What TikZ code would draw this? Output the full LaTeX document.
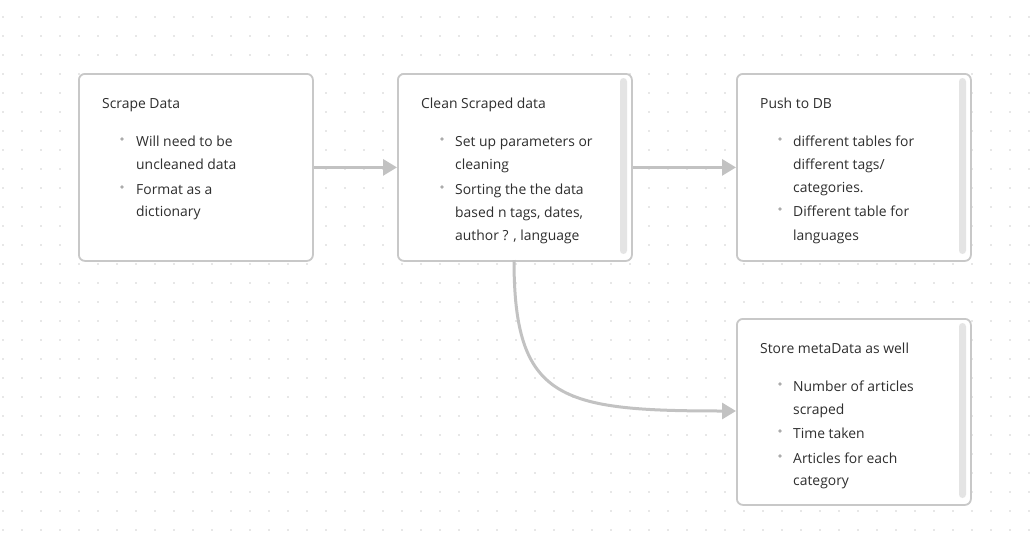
\documentclass[tikz,border=0pt]{standalone}
\usepackage{fontspec}
\setmainfont{Open Sans}
\definecolor{boxline}{HTML}{C8C8C8}
\definecolor{conn}{HTML}{C2C2C2}
\definecolor{barcol}{HTML}{E4E4E4}
\definecolor{txt}{HTML}{2E2E2E}
\definecolor{dotcol}{HTML}{D0D0D0}
\definecolor{bul}{HTML}{ABABAB}
\tikzset{
  card/.style={draw=boxline, line width=1.8pt, rounded corners=6pt, fill=white},
  scrollbar/.style={fill=barcol, rounded corners=3.5pt},
  flow/.style={draw=conn, line width=3pt, -{Triangle[length=14pt,width=16pt]}},
  ttl/.style={anchor=base west, inner sep=0pt, text=txt, font=\fontsize{13.9}{16}\selectfont},
  itm/.style={anchor=base west, inner sep=0pt, text=txt, font=\fontsize{13.9}{16}\selectfont},
  bulletdot/.style={circle, fill=bul, inner sep=0pt, minimum size=3.8pt}
}
\usetikzlibrary{arrows.meta}
\begin{document}
\begin{tikzpicture}[x=1pt,y=-1pt]
\useasboundingbox (0,0) rectangle (1033,538);
\fill[white] (0,0) rectangle (1033,538);
% dot grid
\foreach \i in {0,...,54} {
  \foreach \j in {0,...,27} {
    \fill[dotcol] ({3+19*\i},{17+19*\j}) circle (0.8pt);
  }
}
% cards
\node[card, minimum width=234pt, minimum height=187pt, anchor=north west, inner sep=0pt] (c1) at (78,73) {};
\node[card, minimum width=234pt, minimum height=187pt, anchor=north west, inner sep=0pt] (c2) at (397,73) {};
\node[card, minimum width=234pt, minimum height=187pt, anchor=north west, inner sep=0pt] (c3) at (736,73) {};
\node[card, minimum width=234pt, minimum height=186pt, anchor=north west, inner sep=0pt] (c4) at (736,318) {};
% scrollbars
\fill[scrollbar] (620,78) rectangle (627,254);
\fill[scrollbar] (959,78) rectangle (966,254);
\fill[scrollbar] (959,323) rectangle (966,498);
% connectors
\draw[flow] (c1.east) -- (c2.west);
\draw[flow] (c2.east) -- (c3.west);
\coordinate (cstart) at (514,260);
\coordinate (cend) at (736,411);
\draw[flow] (cstart) .. controls (514,400) and (560,411) .. (cend);
% card 1
\node[ttl] (t1) at (102,108) {Scrape Data};
\node[bulletdot] (b11) at (122,139) {};
\node[itm] (l11) at (136,146) {Will need to be};
\node[itm] (l12) at (136,169) {uncleaned data};
\node[bulletdot] (b12) at (122,187) {};
\node[itm] (l13) at (136,194) {Format as a};
\node[itm] (l14) at (136,216) {dictionary};
% card 2
\node[ttl] (t2) at (421,108) {Clean Scraped data};
\node[bulletdot] (b21) at (442,139) {};
\node[itm] (l21) at (455,146) {Set up parameters or};
\node[itm] (l22) at (455,169) {cleaning};
\node[bulletdot] (b22) at (442,187) {};
\node[itm] (l23) at (455,194) {Sorting the the data};
\node[itm] (l24) at (455,217) {based n tags, dates,};
\node[itm] (l25) at (455,240) {author ? , language};
% card 3
\node[ttl] (t3) at (760,108) {Push to DB};
\node[bulletdot] (b31) at (780,139) {};
\node[itm] (l31) at (793,146) {different tables for};
\node[itm] (l32) at (793,169) {different tags/};
\node[itm] (l33) at (793,192) {categories.};
\node[bulletdot] (b32) at (780,209) {};
\node[itm] (l34) at (793,216) {Different table for};
\node[itm] (l35) at (793,240) {languages};
% card 4
\node[ttl] (t4) at (760,353) {Store metaData as well};
\node[bulletdot] (b41) at (780,384) {};
\node[itm] (l41) at (793,391) {Number of articles};
\node[itm] (l42) at (793,414) {scraped};
\node[bulletdot] (b42) at (780,431) {};
\node[itm] (l43) at (793,438) {Time taken};
\node[bulletdot] (b43) at (780,456) {};
\node[itm] (l44) at (793,463) {Articles for each};
\node[itm] (l45) at (793,485) {category};
\end{tikzpicture}
\end{document}
